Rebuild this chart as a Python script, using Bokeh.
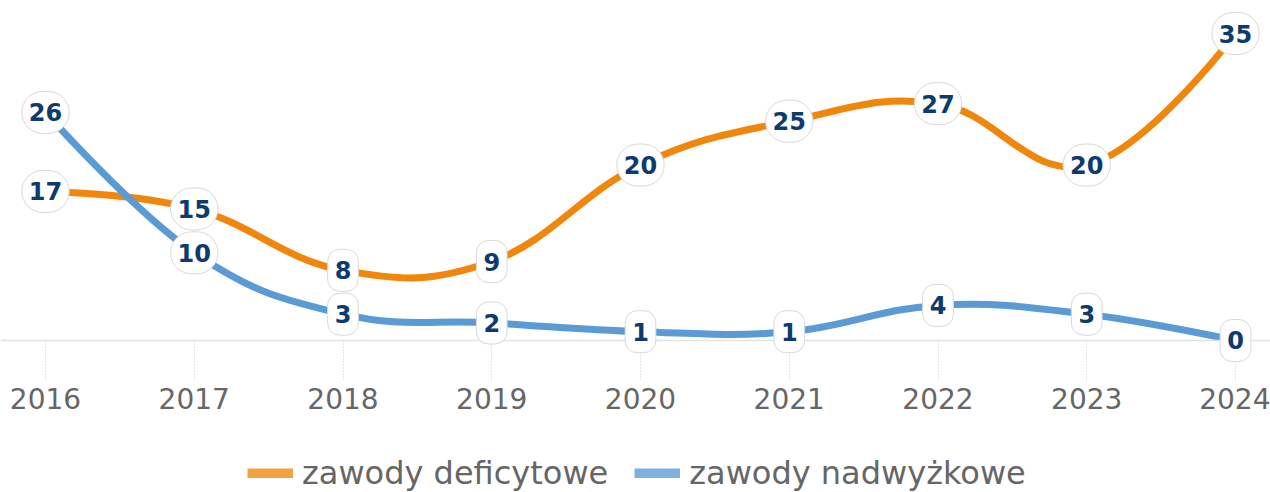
import numpy as np
from bokeh.plotting import figure
from bokeh.layouts import column
from bokeh.models import Label, Span, FixedTicker, Legend, LegendItem, ColumnDataSource
from bokeh.embed import file_html
from bokeh.resources import INLINE

# ---- data ----
years = [2016, 2017, 2018, 2019, 2020, 2021, 2022, 2023, 2024]
tick_labels = ["2016", "2017", "2018", "2019", "2020", "2021", "2022", "2023", "2024"]
deficit = [17, 15, 8, 9, 20, 25, 27, 20, 35]
surplus = [26, 10, 3, 2, 1, 1, 4, 3, 0]
series_names = ["zawody deficytowe", "zawody nadwyżkowe"]

# ---- style ----
ORANGE = "#f0870c"
BLUE = "#5b9bd5"
NAVY = "#0d3a6f"
GRAY_TXT = "#666666"


def spline_segments(xs, ys, smoothing=1.5):
    """Highcharts-style spline control points (no extreme clamping)."""
    n = len(xs)
    lc, rc = [], []
    for i in range(n):
        x, y = xs[i], ys[i]
        if 0 < i < n - 1:
            lx, ly = xs[i - 1], ys[i - 1]
            nx, ny = xs[i + 1], ys[i + 1]
            d = smoothing + 1
            lcx = (smoothing * x + lx) / d
            lcy = (smoothing * y + ly) / d
            rcx = (smoothing * x + nx) / d
            rcy = (smoothing * y + ny) / d
            if rcx != lcx:
                corr = ((rcy - lcy) * (rcx - x)) / (rcx - lcx) + y - rcy
                lcy += corr
                rcy += corr
        else:
            lcx, lcy, rcx, rcy = x, y, x, y
        lc.append((lcx, lcy))
        rc.append((rcx, rcy))
    seg = dict(x0=[], y0=[], x1=[], y1=[], cx0=[], cy0=[], cx1=[], cy1=[])
    for i in range(n - 1):
        seg["x0"].append(xs[i]); seg["y0"].append(ys[i])
        seg["x1"].append(xs[i + 1]); seg["y1"].append(ys[i + 1])
        seg["cx0"].append(rc[i][0]); seg["cy0"].append(rc[i][1])
        seg["cx1"].append(lc[i + 1][0]); seg["cy1"].append(lc[i + 1][1])
    return ColumnDataSource(seg)


W = 1270
H_MAIN = 440
H_LEG = 52
px_per_year = 148.75
px_per_unit = 8.7714
x_start = years[0] - 45 / px_per_year
x_end = years[-1] + (W - 1235) / px_per_year
y_end = 35 + 33 / px_per_unit
y_start = -40 / px_per_unit

p = figure(width=W, height=H_MAIN, output_backend="svg", toolbar_location=None,
           x_range=(x_start, x_end), y_range=(y_start, y_end),
           y_axis_location=None, min_border_left=0, min_border_right=0,
           min_border_top=0, min_border_bottom=H_MAIN - 380)
p.outline_line_color = None
p.grid.visible = False
p.background_fill_color = "white"
p.border_fill_color = "white"

xa = p.xaxis[0]
xa.ticker = FixedTicker(ticks=years)
xa.major_label_overrides = {y: t for y, t in zip(years, tick_labels)}
xa.axis_line_color = None
xa.major_tick_in = 40
xa.major_tick_out = 0
xa.major_tick_line_color = "#cccccc"
xa.major_tick_line_dash = "1 2"
xa.major_tick_line_width = 1
xa.minor_tick_line_color = None
xa.major_label_text_font = "DejaVu Sans"
xa.major_label_text_font_size = "28px"
xa.major_label_text_color = GRAY_TXT
xa.major_label_standoff = 7

p.add_layout(Span(location=0, dimension="width", line_color="#e2e2e2", line_width=1.5))

# lines
p.bezier(x0="x0", y0="y0", x1="x1", y1="y1", cx0="cx0", cy0="cy0", cx1="cx1", cy1="cy1",
         source=spline_segments(years, deficit), line_color=ORANGE, line_width=7,
         line_cap="round")
p.bezier(x0="x0", y0="y0", x1="x1", y1="y1", cx0="cx0", cy0="cy0", cx1="cx1", cy1="cy1",
         source=spline_segments(years, surplus), line_color=BLUE, line_width=7,
         line_cap="round")

# value labels
for series in (deficit, surplus):
    for x, v in zip(years, series):
        txt = str(v)
        p.add_layout(Label(x=x, y=v, text=txt, text_align="center", text_baseline="middle",
                           text_font="DejaVu Sans", text_font_style="bold",
                           text_font_size="24px", text_color=NAVY,
                           background_fill_color="white", border_line_color="#d9d9d9",
                           border_line_width=1,
                           padding=dict(left=7, right=7, top=12, bottom=12),
                           border_radius=21 if len(txt) > 1 else 12))

# ---- legend strip (separate figure below) ----
leg = figure(width=W, height=H_LEG, output_backend="svg", toolbar_location=None,
             x_axis_location=None, y_axis_location=None,
             x_range=(0, 1), y_range=(0, 1),
             min_border_left=0, min_border_right=0, min_border_top=0, min_border_bottom=0)
leg.outline_line_color = None
leg.grid.visible = False
leg.background_fill_color = "white"
leg.border_fill_color = "white"
# proxies for the legend swatches (data lie outside this strip's range)
l1 = leg.line(x=years, y=deficit, line_color=ORANGE, line_alpha=0.78, line_width=10)
l2 = leg.line(x=years, y=surplus, line_color=BLUE, line_alpha=0.78, line_width=10)
legend = Legend(items=[LegendItem(label=series_names[0], renderers=[l1]),
                       LegendItem(label=series_names[1], renderers=[l2])],
                orientation="horizontal", location=(247, 0), padding=0, margin=0,
                spacing=26, glyph_width=46, glyph_height=10, label_standoff=9,
                label_text_font="DejaVu Sans", label_text_font_size="32px",
                label_text_color=GRAY_TXT, border_line_color=None,
                background_fill_alpha=0)
leg.add_layout(legend)

open("out.html", "w").write(file_html(column(p, leg, spacing=0), INLINE))
